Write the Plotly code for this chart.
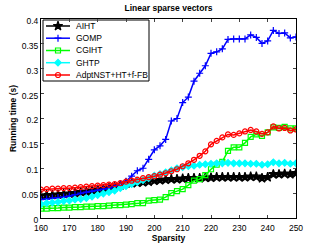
import plotly.graph_objects as go

sparsity = list(range(160, 251, 2))

aiht = [0.045, 0.046, 0.046, 0.047, 0.048, 0.049, 0.050, 0.052, 0.053, 0.055, 0.057, 0.058, 0.060, 0.062, 0.065, 0.069,
        0.070, 0.071, 0.072, 0.073, 0.075, 0.076, 0.077, 0.078, 0.078, 0.079, 0.080, 0.080, 0.080, 0.081, 0.081, 0.082,
        0.082, 0.082, 0.082, 0.082, 0.082, 0.083, 0.083, 0.080, 0.082, 0.088, 0.088, 0.089, 0.088, 0.090]
gomp = [0.037, 0.038, 0.040, 0.041, 0.042, 0.044, 0.047, 0.050, 0.052, 0.054, 0.056, 0.058, 0.060, 0.064, 0.068, 0.074,
        0.084, 0.095, 0.100, 0.118, 0.137, 0.145, 0.158, 0.195, 0.200, 0.232, 0.243, 0.275, 0.291, 0.306, 0.331, 0.334,
        0.340, 0.359, 0.360, 0.360, 0.360, 0.368, 0.363, 0.351, 0.356, 0.377, 0.371, 0.372, 0.362, 0.364]
cgiht = [0.019, 0.019, 0.020, 0.020, 0.021, 0.021, 0.022, 0.022, 0.023, 0.023, 0.024, 0.024, 0.025, 0.026, 0.026, 0.027,
         0.028, 0.030, 0.030, 0.035, 0.036, 0.037, 0.042, 0.050, 0.054, 0.058, 0.066, 0.075, 0.078, 0.086, 0.098, 0.107,
         0.113, 0.135, 0.142, 0.142, 0.151, 0.163, 0.168, 0.165, 0.172, 0.182, 0.181, 0.183, 0.180, 0.180]
ghtp = [0.028, 0.030, 0.031, 0.032, 0.034, 0.035, 0.037, 0.038, 0.040, 0.043, 0.046, 0.049, 0.052, 0.055, 0.060, 0.064,
        0.068, 0.072, 0.076, 0.080, 0.085, 0.088, 0.092, 0.096, 0.100, 0.102, 0.104, 0.105, 0.107, 0.108, 0.109, 0.110,
        0.110, 0.111, 0.110, 0.110, 0.110, 0.109, 0.109, 0.107, 0.108, 0.112, 0.110, 0.111, 0.109, 0.110]
adpt = [0.057, 0.058, 0.059, 0.059, 0.060, 0.060, 0.061, 0.062, 0.063, 0.064, 0.065, 0.066, 0.067, 0.068, 0.070, 0.073,
        0.075, 0.077, 0.080, 0.082, 0.084, 0.087, 0.090, 0.094, 0.098, 0.104, 0.110, 0.117, 0.125, 0.134, 0.148, 0.155,
        0.162, 0.168, 0.167, 0.170, 0.174, 0.177, 0.174, 0.169, 0.172, 0.184, 0.180, 0.181, 0.176, 0.178]

x_ticks = [160, 170, 180, 190, 200, 210, 220, 230, 240, 250]
y_ticks = [0, 0.05, 0.1, 0.15, 0.2, 0.25, 0.3, 0.35, 0.4]
y_labels = ["0", "0.05", "0.1", "0.15", "0.2", "0.25", "0.3", "0.35", "0.4"]

names = ["AIHT", "GOMP", "CGIHT", "GHTP", "AdptNST+HT+f-FB"]
values = [aiht, gomp, cgiht, ghtp, adpt]
colors = ["black", "#0000ff", "#00ff00", "#00ffff", "#ff0000"]
symbols = ["star", "cross-thin", "square-open", "diamond", "circle-open"]
msizes = [7, 5, 5, 5, 5]

W, H = 327, 246
L, R, T, B = 41, 296, 19, 218


def fx(px):
    return (px - L) / (R - L)


def fy(py):
    return (B - py) / (B - T)


fig = go.Figure()
for name, ys, color, sym, ms in zip(names, values, colors, symbols, msizes):
    fig.add_trace(go.Scatter(
        x=sparsity, y=ys, name=name, mode="lines+markers", showlegend=False,
        line=dict(color=color, width=1.5),
        marker=dict(symbol=sym, size=ms, color=color, line=dict(color=color, width=1.2)),
    ))

# custom legend (drawn in paper fractions)
shapes = [dict(type="rect", xref="paper", yref="paper", x0=fx(43), x1=fx(149), y0=fy(81), y1=fy(20),
               line=dict(color="black", width=1), fillcolor="white", layer="below")]
annotations = []
row_y = [26.0, 38.2, 50.5, 62.7, 75.0]
for i, (name, color, sym, ms) in enumerate(zip(names, colors, symbols, msizes)):
    yy = fy(row_y[i])
    shapes.append(dict(type="line", xref="paper", yref="paper", x0=fx(46), x1=fx(70), y0=yy, y1=yy,
                       line=dict(color=color, width=1.5), layer="below"))
    annotations.append(dict(x=fx(74), y=yy, xref="paper", yref="paper", text=name, showarrow=False,
                            xanchor="left", yanchor="middle", font=dict(size=8.5, color="black")))
    fig.add_trace(go.Scatter(
        x=[fx(58)], y=[yy], xaxis="x2", yaxis="y2", mode="markers", showlegend=False,
        hoverinfo="skip", cliponaxis=False,
        marker=dict(symbol=sym, size=ms, color=color, line=dict(color=color, width=1.2)),
    ))

fig.update_layout(
    width=W, height=H,
    margin=dict(l=L, r=W - R, t=T, b=H - B, autoexpand=False),
    paper_bgcolor="white", plot_bgcolor="white",
    font=dict(family="Liberation Sans, Arial, sans-serif", size=8, color="black"),
    title=dict(text="<b>Linear sparse vectors</b>", x=(L + (R - L) / 2) / W, xanchor="center",
               y=1 - 8.5 / H, yanchor="middle", font=dict(size=8.5)),
    showlegend=False,
    shapes=shapes,
    annotations=annotations,
    xaxis=dict(range=[160, 250], tickvals=x_ticks, ticks="inside", ticklen=3,
               showline=True, linecolor="black", linewidth=1, mirror="ticks",
               showgrid=False, zeroline=False, tickfont=dict(size=8.5), automargin=False,
               ticklabelstandoff=2,
               title=dict(text="<b>Sparsity</b>", font=dict(size=8.5), standoff=0)),
    yaxis=dict(range=[0, 0.4], tickvals=y_ticks, ticktext=y_labels, ticks="inside", ticklen=3,
               showline=True, linecolor="black", linewidth=1, mirror="ticks",
               showgrid=False, zeroline=False, tickfont=dict(size=8.5), automargin=False,
               ticklabelshift=2,
               title=dict(text="<b>Running time (s)</b>", font=dict(size=8.5), standoff=3)),
    xaxis2=dict(overlaying="x", range=[0, 1], visible=False, fixedrange=True),
    yaxis2=dict(overlaying="y", range=[0, 1], visible=False, fixedrange=True),
)

fig.write_html("out.html", config={"displayModeBar": False},
               post_script="document.body.style.margin='0';document.body.style.padding='0';")
